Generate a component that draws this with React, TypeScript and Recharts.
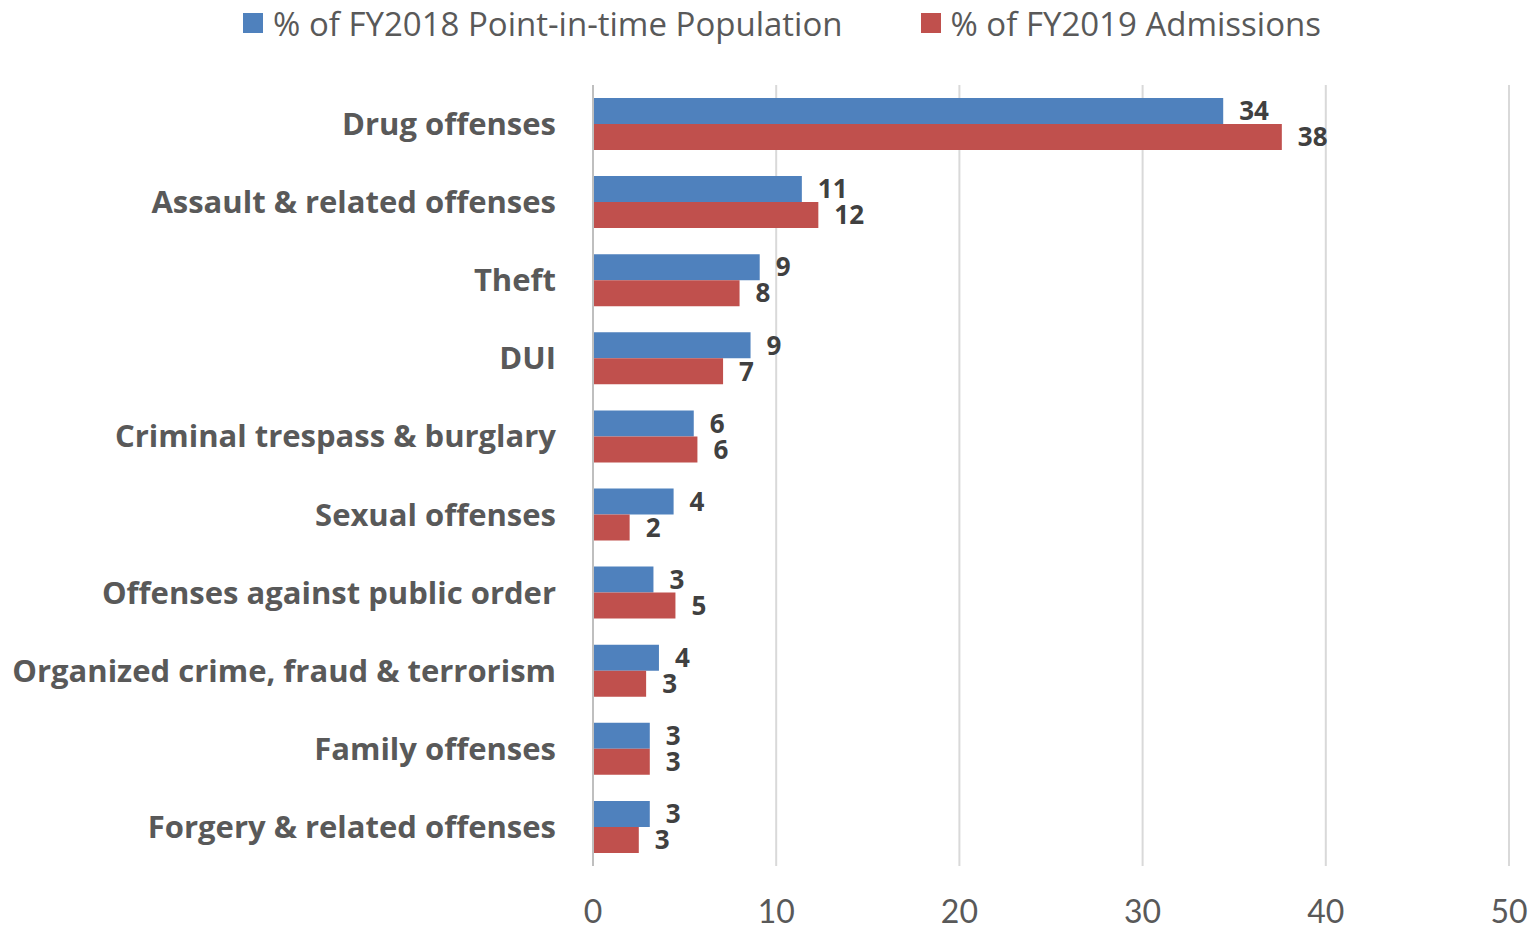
import { BarChart, Bar, XAxis, YAxis, CartesianGrid, Legend, LabelList } from "recharts";

const categories = [
  "Drug offenses",
  "Assault & related offenses",
  "Theft",
  "DUI",
  "Criminal trespass & burglary",
  "Sexual offenses",
  "Offenses against public order",
  "Organized crime, fraud & terrorism",
  "Family offenses",
  "Forgery & related offenses",
];

const population2018 = [34.4, 11.4, 9.1, 8.6, 5.5, 4.4, 3.3, 3.6, 3.1, 3.1];
const admissions2019 = [37.6, 12.3, 8.0, 7.1, 5.7, 2.0, 4.5, 2.9, 3.1, 2.5];

const xTicks = [0, 10, 20, 30, 40, 50];

const seriesNames = ["% of FY2018 Point-in-time Population", "% of FY2019 Admissions"];
const BLUE = "#4f81bd";
const RED = "#c0504d";
const FONT = "'Open Sans', sans-serif";

const data = categories.map((name, i) => ({
  name,
  pop: population2018[i],
  adm: admissions2019[i],
}));

function LegendBox() {
  const items = [
    { label: seriesNames[0], color: BLUE },
    { label: seriesNames[1], color: RED },
  ];
  return (
    <div
      style={{
        display: "flex",
        justifyContent: "center",
        gap: 78,
        fontFamily: FONT,
        height: 38,
        paddingLeft: 30,
      }}
    >
      {items.map((it) => (
        <div key={it.label} style={{ display: "flex", alignItems: "center" }}>
          <span style={{ width: 20, height: 20, background: it.color, display: "inline-block", marginRight: 10 }} />
          <span style={{ fontSize: 33, color: "#595959" }}>{it.label}</span>
        </div>
      ))}
    </div>
  );
}

export default function App() {
  const labelStyle = { fill: "#404040", fontSize: 26, fontWeight: 700, fontFamily: FONT };
  return (
    <div style={{ position: "absolute", left: 0, top: 0, background: "#fff" }}>
      <BarChart
        width={1534}
        height={930}
        data={data}
        layout="vertical"
        margin={{ top: 47, right: 25, bottom: 0, left: 0 }}
        barGap={0}
        barCategoryGap={13}
      >
        <CartesianGrid horizontal={false} stroke="#d9d9d9" strokeWidth={2} />
        <XAxis
          type="number"
          domain={[0, 50]}
          ticks={xTicks}
          axisLine={false}
          tickLine={false}
          height={64}
          tickMargin={28}
          tick={{ fill: "#595959", fontSize: 32, fontFamily: "Lato, sans-serif" }}
        />
        <YAxis
          type="category"
          dataKey="name"
          width={593}
          axisLine={{ stroke: "#bfbfbf", strokeWidth: 2 }}
          tickLine={false}
          tickSize={0}
          tickMargin={37}
          interval={0}
          tick={{ fill: "#595959", fontSize: 31, fontWeight: 700, fontFamily: FONT }}
        />
        <Legend verticalAlign="top" content={() => <LegendBox />} wrapperStyle={{ top: 4, left: 0, width: 1534 }} />
        <Bar dataKey="pop" name={seriesNames[0]} fill={BLUE} barSize={26} isAnimationActive={false}>
          <LabelList dataKey="pop" position="right" offset={16} formatter={(v: number) => Math.round(v)} style={labelStyle} />
        </Bar>
        <Bar dataKey="adm" name={seriesNames[1]} fill={RED} barSize={26} isAnimationActive={false}>
          <LabelList dataKey="adm" position="right" offset={16} formatter={(v: number) => Math.round(v)} style={labelStyle} />
        </Bar>
      </BarChart>
    </div>
  );
}
